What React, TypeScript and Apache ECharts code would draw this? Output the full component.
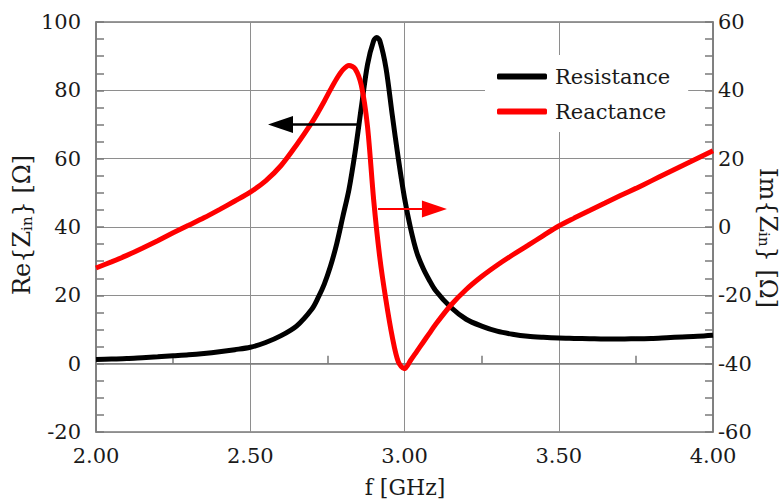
import React, { useEffect, useRef } from "react";
import * as echarts from "echarts";

// Resistance (left axis, Ω)
const resFreq = [2.00, 2.05, 2.10, 2.15, 2.20, 2.25, 2.30, 2.35, 2.40, 2.45, 2.50, 2.55, 2.60, 2.65, 2.70, 2.72, 2.74, 2.76, 2.78, 2.80, 2.82, 2.84, 2.86, 2.88, 2.90, 2.91, 2.92, 2.94, 2.96, 2.98, 3.00, 3.02, 3.04, 3.06, 3.08, 3.10, 3.15, 3.20, 3.25, 3.30, 3.35, 3.40, 3.45, 3.50, 3.55, 3.60, 3.65, 3.70, 3.75, 3.80, 3.85, 3.90, 3.95, 4.00];
const resistance = [1.2, 1.35, 1.5, 1.75, 2.0, 2.3, 2.6, 3.0, 3.5, 4.1, 4.8, 6.2, 8.2, 11.0, 16.0, 19.3, 23.3, 28.5, 35, 43, 51, 62, 75, 87.5, 94.5, 95.5, 94.5, 86.5, 73, 60, 48.5, 39.5, 32.5, 28, 24.5, 21.5, 16.5, 13, 11, 9.5, 8.6, 8.0, 7.7, 7.5, 7.4, 7.3, 7.2, 7.2, 7.3, 7.4, 7.6, 7.8, 8.0, 8.3];

// Reactance (right axis, Ω)
const reaFreq = [2.00, 2.05, 2.10, 2.15, 2.20, 2.25, 2.30, 2.35, 2.40, 2.45, 2.50, 2.55, 2.60, 2.65, 2.70, 2.72, 2.74, 2.76, 2.78, 2.80, 2.82, 2.84, 2.86, 2.88, 2.90, 2.92, 2.94, 2.96, 2.98, 3.00, 3.02, 3.04, 3.06, 3.08, 3.10, 3.15, 3.20, 3.25, 3.30, 3.35, 3.40, 3.45, 3.50, 3.55, 3.60, 3.65, 3.70, 3.75, 3.80, 3.85, 3.90, 3.95, 4.00];
const reactance = [-12, -10.2, -8.3, -6.2, -4.0, -1.7, 0.5, 2.7, 5.1, 7.6, 10.2, 13.5, 18.0, 24.0, 30.6, 33.6, 36.8, 40.2, 43.4, 46.0, 47.3, 46.3, 41.5, 29.5, 8.0, -9, -21.5, -32, -39.5, -41.5, -39.0, -36.4, -33.8, -31.2, -28.6, -22.9, -18.3, -14.5, -11.2, -8.2, -5.4, -2.5, 0.3, 2.6, 4.8, 7.0, 9.2, 11.3, 13.5, 15.7, 17.9, 20.1, 22.3];

const seriesNames = ["Resistance", "Reactance"];
// arrow annotations: [fromX, toX, y]
const arrowLeft = [2.846, 2.598, 70];
const arrowRight = [2.914, 3.097, 5.3];

const FONT = "DejaVu Serif";
const FS = 21;
const TXT = "#1a1a1a";
const GRID = "#8e8e8e";
const AXIS = "#7a7a7a";

export default function App() {
  const ref = useRef<HTMLDivElement>(null);
  useEffect(() => {
    document.body.style.margin = "0";
    const chart = echarts.init(ref.current!, null, { renderer: "svg" });
    const zip = (xs: number[], ys: number[]) => xs.map((x, i) => [x, ys[i]]);
    const common = {
      axisLine: { show: true, lineStyle: { color: AXIS, width: 1.5 } },
      axisTick: { show: true, inside: true, length: 8, lineStyle: { color: AXIS, width: 1.5 } },
      axisLabel: { fontFamily: FONT, fontSize: FS, color: TXT, lineHeight: 20 },
    };
    const subRich = {
      sub: { fontFamily: FONT, fontSize: 15, fill: TXT, verticalAlign: "bottom", lineHeight: 15, padding: [11, 0, 0, 0] },
    };
    chart.setOption({
      animation: false,
      grid: { left: 96, right: 70, top: 22, bottom: 70, show: true, borderColor: AXIS, borderWidth: 1.5 },
      legend: {
        data: seriesNames,
        orient: "vertical",
        left: 485,
        top: 55,
        padding: [11, 18, 10, 12],
        itemWidth: 50,
        itemHeight: 6,
        itemGap: 14,
        icon: "roundRect",
        backgroundColor: "#fff",
        textStyle: { fontFamily: FONT, fontSize: FS, color: TXT, lineHeight: 21, padding: [0, 0, 0, 3] },
      },
      xAxis: {
        type: "value",
        min: 2,
        max: 4,
        interval: 0.5,
        ...common,
        axisTick: { show: false, inside: true, length: 8 },
        minorTick: { show: true, splitNumber: 2, length: 8, lineStyle: { color: AXIS, width: 1.5 } },
        axisLabel: { ...common.axisLabel, margin: 14, formatter: (v: number) => v.toFixed(2) },
        splitLine: { show: true, lineStyle: { color: GRID, width: 1 } },
      },
      yAxis: [
        {
          type: "value",
          min: -20,
          max: 100,
          interval: 20,
          ...common,
          axisLabel: { ...common.axisLabel, margin: 15 },
          minorTick: { show: true, splitNumber: 4, length: 8, lineStyle: { color: AXIS, width: 1.5 } },
          splitLine: { show: true, lineStyle: { color: GRID, width: 1 } },
        },
        {
          type: "value",
          position: "right",
          min: -60,
          max: 60,
          interval: 20,
          ...common,
          axisLabel: { ...common.axisLabel, margin: 5 },
          minorTick: { show: true, splitNumber: 4, length: 8, lineStyle: { color: AXIS, width: 1.5 } },
          splitLine: { show: false },
        },
      ],
      graphic: [
        {
          type: "text",
          x: 22,
          y: 225,
          rotation: Math.PI / 2,
          style: {
            text: "Re{Z{sub|in}} [Ω]",
            fontFamily: FONT,
            fontSize: 24,
            fill: TXT,
            align: "center",
            verticalAlign: "middle",
            rich: subRich,
          },
        },
        {
          type: "text",
          x: 768,
          y: 238,
          rotation: -Math.PI / 2,
          style: {
            text: "Im{Z{sub|in}} [Ω]",
            fontFamily: FONT,
            fontSize: 24,
            fill: TXT,
            align: "center",
            verticalAlign: "middle",
            rich: subRich,
          },
        },
        {
          type: "text",
          x: 405,
          y: 487,
          style: { text: "f [GHz]", fontFamily: FONT, fontSize: 22, fill: TXT, align: "center", verticalAlign: "middle" },
        },
      ],
      series: [
        {
          name: seriesNames[0],
          type: "line",
          yAxisIndex: 0,
          data: zip(resFreq, resistance),
          showSymbol: false,
          smooth: 0.3,
          color: "#000000",
          lineStyle: { color: "#000000", width: 5 },
          z: 3,
          markLine: {
            silent: true,
            symbol: ["none", "triangle"],
            symbolSize: [17, 25],
            label: { show: false },
            lineStyle: { color: "#000000", width: 2.5, type: "solid" },
            data: [[{ coord: [arrowLeft[0], arrowLeft[2]] }, { coord: [arrowLeft[1], arrowLeft[2]] }]],
          },
        },
        {
          name: seriesNames[1],
          type: "line",
          yAxisIndex: 1,
          data: zip(reaFreq, reactance),
          showSymbol: false,
          smooth: 0.3,
          color: "#ff0000",
          lineStyle: { color: "#ff0000", width: 5 },
          z: 4,
          markLine: {
            silent: true,
            symbol: ["none", "triangle"],
            symbolSize: [17, 25],
            label: { show: false },
            lineStyle: { color: "#ff0000", width: 2, type: "solid" },
            data: [[{ coord: [arrowRight[0], arrowRight[2]] }, { coord: [arrowRight[1], arrowRight[2]] }]],
          },
        },
      ],
    });
    return () => chart.dispose();
  }, []);
  return <div ref={ref} style={{ width: 783, height: 502 }} />;
}
